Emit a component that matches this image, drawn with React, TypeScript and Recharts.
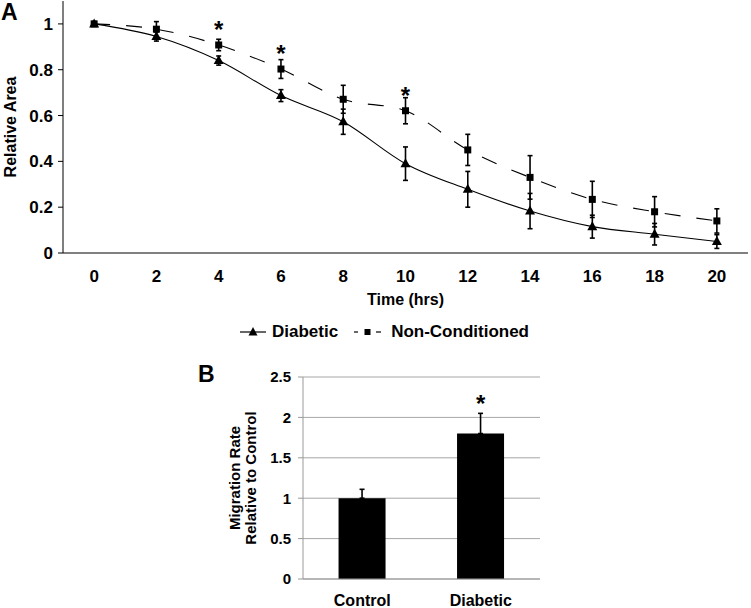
import React from 'react';
import {
  LineChart,
  Line,
  BarChart,
  Bar,
  XAxis,
  YAxis,
  CartesianGrid,
  ErrorBar,
  LabelList,
  Legend,
} from 'recharts';

// Panel A: wound closure over time
const times = [0, 2, 4, 6, 8, 10, 12, 14, 16, 18, 20];
const diabetic = [1.0, 0.945, 0.84, 0.687, 0.573, 0.39, 0.278, 0.183, 0.115, 0.082, 0.05];
const diabeticErr = [0.01, 0.02, 0.02, 0.026, 0.055, 0.073, 0.078, 0.077, 0.05, 0.047, 0.03];
const nonConditioned = [1.0, 0.977, 0.908, 0.803, 0.671, 0.621, 0.45, 0.33, 0.234, 0.18, 0.14];
const nonConditionedErr = [0.01, 0.033, 0.025, 0.041, 0.061, 0.057, 0.068, 0.095, 0.079, 0.066, 0.053];
const significantA = ['', '', '*', '*', '', '*', '', '', '', '', ''];
const yTicksA = [0, 0.2, 0.4, 0.6, 0.8, 1];
const edgeTicksA = [-1, 1, 3, 5, 7, 9, 11, 13, 15, 17, 19, 21];

// Panel B: migration rate
const groups = ['Control', 'Diabetic'];
const rates = [1.0, 1.8];
const rateErr = [0.11, 0.25];
const significantB = ['', '*'];
const yTicksB = [0, 0.5, 1, 1.5, 2, 2.5];
const edgeTicksB = [0, 1, 2];

const FONT = '"Liberation Sans", Arial, sans-serif';

const dataA = times.map((t, i) => ({
  time: t,
  diabetic: diabetic[i],
  diabeticErr: diabeticErr[i],
  nonConditioned: nonConditioned[i],
  nonConditionedErr: nonConditionedErr[i],
  sig: significantA[i],
}));

const dataB = groups.map((g, i) => ({
  group: g,
  rate: rates[i],
  rateErr: [0, rateErr[i]],
  sig: significantB[i],
}));

function TriangleDot({ cx, cy }: any) {
  if (cx == null || cy == null) return null;
  return <path d={`M${cx},${cy - 5.5}L${cx + 5},${cy + 3.5}L${cx - 5},${cy + 3.5}Z`} fill="#000" />;
}

function SquareDot({ cx, cy }: any) {
  if (cx == null || cy == null) return null;
  return <rect x={cx - 3.5} y={cy - 3.5} width={7} height={7} fill="#000" />;
}

function EmptyTick() {
  return <g />;
}

function LegendA() {
  return (
    <div
      style={{
        height: 37,
        display: 'flex',
        alignItems: 'center',
        paddingLeft: 240,
        fontFamily: FONT,
        fontWeight: 700,
        fontSize: 17,
        color: '#000',
      }}
    >
      <svg width={26} height={12} style={{ marginRight: 6 }}>
        <line x1={0} y1={6} x2={26} y2={6} stroke="#000" strokeWidth={1.2} />
        <path d="M13,1L17.5,9.5L8.5,9.5Z" fill="#000" />
      </svg>
      <span>Diabetic</span>
      <svg width={27} height={12} style={{ marginLeft: 16, marginRight: 10 }}>
        <line x1={0} y1={6} x2={4} y2={6} stroke="#000" strokeWidth={1.2} />
        <rect x={10.5} y={3} width={6} height={6} fill="#000" />
        <line x1={22} y1={6} x2={27} y2={6} stroke="#000" strokeWidth={1.2} />
      </svg>
      <span>Non-Conditioned</span>
    </div>
  );
}

function RateLabel({ viewBox }: any) {
  if (!viewBox) return null;
  const { x, y, height } = viewBox;
  const cy = y + height / 2;
  const x1 = x + 44;
  const x2 = x + 60;
  const style = { fontFamily: FONT, fontWeight: 700, fontSize: 15, fill: '#000' };
  return (
    <g>
      <text x={x1} y={cy} transform={`rotate(-90 ${x1} ${cy})`} textAnchor="middle" dominantBaseline="central" style={style}>
        Migration Rate
      </text>
      <text x={x2} y={cy} transform={`rotate(-90 ${x2} ${cy})`} textAnchor="middle" dominantBaseline="central" style={style}>
        Relative to Control
      </text>
    </g>
  );
}

const tickStyle = { fill: '#000', fontSize: 17, fontWeight: 700, fontFamily: FONT };
const labelStyle = { fill: '#000', fontSize: 16, fontWeight: 700, fontFamily: FONT, textAnchor: 'middle' as const };
const starStyle = { fontSize: 24, fontWeight: 700, fontFamily: FONT, fill: '#000' };
const panelLetter = {
  position: 'absolute' as const,
  fontFamily: FONT,
  fontWeight: 700,
  fontSize: 23,
  lineHeight: 1,
  color: '#000',
};

export default function App() {
  return (
    <div style={{ position: 'absolute', left: 0, top: 0, width: 751, height: 608, background: '#fff', fontFamily: FONT }}>
      <div style={{ position: 'absolute', left: 0, top: 0 }}>
        <LineChart width={751} height={350} data={dataA} margin={{ top: 1, right: 3, left: 0, bottom: 0 }}>
          <XAxis
            xAxisId="edge"
            type="number"
            domain={[-1, 21]}
            ticks={edgeTicksA}
            height={0}
            axisLine={false}
            tickLine={{ stroke: '#000' }}
            tickSize={6}
            tick={EmptyTick}
          />
          <XAxis
            dataKey="time"
            type="number"
            domain={[-1, 21]}
            ticks={times}
            height={60}
            axisLine={{ stroke: '#000' }}
            tickLine={false}
            tickSize={6}
            tickMargin={11}
            tick={tickStyle}
            label={{ value: 'Time (hrs)', position: 'insideBottom', offset: 8, style: labelStyle }}
          />
          <YAxis
            type="number"
            domain={[0, 1.1]}
            ticks={yTicksA}
            width={63}
            axisLine={{ stroke: '#000' }}
            tickLine={{ stroke: '#000' }}
            tickSize={5}
            tickMargin={5}
            tick={tickStyle}
            label={{ value: 'Relative Area', angle: -90, position: 'insideLeft', offset: 10, style: labelStyle }}
          />
          <Legend verticalAlign="bottom" content={<LegendA />} wrapperStyle={{ left: 0, width: 751 }} />
          <Line
            dataKey="diabetic"
            name="Diabetic"
            type="monotone"
            stroke="#000"
            strokeWidth={1.1}
            dot={<TriangleDot />}
            activeDot={false}
            isAnimationActive={false}
          >
            <ErrorBar dataKey="diabeticErr" width={2.5} stroke="#000" strokeWidth={1.6} />
          </Line>
          <Line
            dataKey="nonConditioned"
            name="Non-Conditioned"
            type="monotone"
            stroke="#000"
            strokeWidth={1.1}
            strokeDasharray="16 16"
            dot={<SquareDot />}
            activeDot={false}
            isAnimationActive={false}
          >
            <ErrorBar dataKey="nonConditionedErr" width={2.5} stroke="#000" strokeWidth={1.6} />
            <LabelList dataKey="sig" position="top" offset={7} style={starStyle} />
          </Line>
        </LineChart>
      </div>
      <div style={{ ...panelLetter, left: 1, top: 1 }}>A</div>
      <div style={{ ...panelLetter, left: 198, top: 363 }}>B</div>
      <div style={{ position: 'absolute', left: 190, top: 362 }}>
        <BarChart width={360} height={246} data={dataB} margin={{ top: 15, right: 10, left: 0, bottom: 0 }} barCategoryGap="30%">
          <CartesianGrid vertical={false} stroke="#a6a6a6" />
          <XAxis
            xAxisId="edge"
            type="number"
            domain={[0, 2]}
            ticks={edgeTicksB}
            height={0}
            axisLine={false}
            tickLine={{ stroke: '#999' }}
            tickSize={5}
            tick={EmptyTick}
          />
          <XAxis
            dataKey="group"
            height={29}
            axisLine={{ stroke: '#999' }}
            tickLine={false}
            tickSize={5}
            tickMargin={11}
            tick={{ ...tickStyle, fontSize: 16 }}
          />
          <YAxis
            type="number"
            domain={[0, 2.5]}
            ticks={yTicksB}
            width={113}
            axisLine={{ stroke: '#999' }}
            tickLine={{ stroke: '#999' }}
            tickSize={5}
            tickMargin={7}
            tick={{ ...tickStyle, fontSize: 15 }}
            label={<RateLabel />}
          />
          <Bar dataKey="rate" fill="#000" isAnimationActive={false}>
            <ErrorBar dataKey="rateErr" width={2.5} stroke="#000" strokeWidth={1.6} />
            <LabelList dataKey="sig" position="top" offset={22} style={starStyle} />
          </Bar>
        </BarChart>
      </div>
    </div>
  );
}
